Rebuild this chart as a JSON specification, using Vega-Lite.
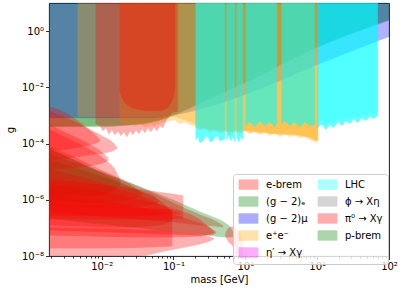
{
"$schema": "https://vega.github.io/schema/vega-lite/v6.json",
"width": 340, "height": 253,
"autosize": "none",
"padding": {"left": 49, "top": 3, "right": 18, "bottom": 34},
"config": {
  "font": "DejaVu Sans",
  "view": {"stroke": "#000", "strokeWidth": 0.9},
  "axis": {"labelFont": "DejaVu Sans", "titleFont": "DejaVu Sans", "labelFontSize": 10, "titleFontSize": 10, "titleFontWeight": "normal", "labelColor": "#000", "titleColor": "#000", "tickColor": "#000", "tickWidth": 0.8, "domain": false, "grid": false}
},
"data": {"values": [
{"r":"G","c":"(g − 2)ₑ","m":0.00185,"lo":3.99e-4,"hi":10},
{"r":"G","c":"(g − 2)ₑ","m":0.00947,"lo":3.99e-4,"hi":10},
{"r":"G","c":"(g − 2)ₑ","m":0.0248,"lo":4.71e-4,"hi":10},
{"r":"G","c":"(g − 2)ₑ","m":0.0647,"lo":7.1e-4,"hi":10},
{"r":"G","c":"(g − 2)ₑ","m":0.1227,"lo":1.26e-3,"hi":10},
{"r":"G","c":"(g − 2)ₑ","m":0.233,"lo":2.64e-3,"hi":10},
{"r":"G","c":"(g − 2)ₑ","m":1.16,"lo":0.01745,"hi":10},
{"r":"G","c":"(g − 2)ₑ","m":9.26,"lo":0.2415,"hi":10},
{"r":"G","c":"(g − 2)ₑ","m":100,"lo":2.41,"hi":10},
{"r":"G2","c":"(g − 2)ₑ","m":0.00185,"lo":4.2e-4,"hi":10},
{"r":"G2","c":"(g − 2)ₑ","m":0.0248,"lo":4.6e-4,"hi":10},
{"r":"G2","c":"(g − 2)ₑ","m":0.0647,"lo":6.8e-4,"hi":10},
{"r":"G2","c":"(g − 2)ₑ","m":0.1227,"lo":1.3e-3,"hi":10},
{"r":"G2","c":"(g − 2)ₑ","m":0.233,"lo":3.0e-3,"hi":10},
{"r":"G2","c":"(g − 2)ₑ","m":1.16,"lo":0.0189,"hi":10},
{"r":"G2","c":"(g − 2)ₑ","m":9.26,"lo":0.262,"hi":10},
{"r":"G2","c":"(g − 2)ₑ","m":100,"lo":2.61,"hi":10},
{"r":"B1","c":"(g − 2)μ","m":0.00185,"lo":8.36e-4,"hi":10},
{"r":"B1","c":"(g − 2)μ","m":0.047,"lo":8.36e-4,"hi":10},
{"r":"B1","c":"(g − 2)μ","m":0.169,"lo":1.37e-3,"hi":10},
{"r":"B1","c":"(g − 2)μ","m":1.16,"lo":6.52e-3,"hi":10},
{"r":"B1","c":"(g − 2)μ","m":9.26,"lo":0.0598,"hi":10},
{"r":"B1","c":"(g − 2)μ","m":100,"lo":0.647,"hi":10},
{"r":"O1","c":"e⁺e⁻","m":0.00468,"lo":9.08e-4,"hi":10},
{"r":"O1","c":"e⁺e⁻","m":0.115,"lo":9.08e-4,"hi":10},
{"r":"Ob","c":"π⁰ → Xγ","m":0.018,"lo":7.07e-3,"hi":10},
{"r":"Ob","c":"π⁰ → Xγ","m":0.0198,"lo":3.66e-3,"hi":10},
{"r":"Ob","c":"π⁰ → Xγ","m":0.0225,"lo":2.43e-3,"hi":10},
{"r":"Ob","c":"π⁰ → Xγ","m":0.0264,"lo":1.9e-3,"hi":10},
{"r":"Ob","c":"π⁰ → Xγ","m":0.0341,"lo":1.61e-3,"hi":10},
{"r":"Ob","c":"π⁰ → Xγ","m":0.047,"lo":1.49e-3,"hi":10},
{"r":"Ob","c":"π⁰ → Xγ","m":0.0647,"lo":1.49e-3,"hi":10},
{"r":"Ob","c":"π⁰ → Xγ","m":0.0784,"lo":1.75e-3,"hi":10},
{"r":"Ob","c":"π⁰ → Xγ","m":0.0891,"lo":2.43e-3,"hi":10},
{"r":"Ob","c":"π⁰ → Xγ","m":0.0982,"lo":4.32e-3,"hi":10},
{"r":"Ob","c":"π⁰ → Xγ","m":0.1045,"lo":8.34e-3,"hi":10},
{"r":"Oa","c":"e⁺e⁻","m":0.018,"lo":6.02e-4,"hi":10},
{"r":"Oa","c":"e⁺e⁻","m":0.0211,"lo":4.71e-4,"hi":10},
{"r":"Oa","c":"e⁺e⁻","m":0.0248,"lo":5.55e-4,"hi":10},
{"r":"Oa","c":"e⁺e⁻","m":0.029,"lo":4.34e-4,"hi":10},
{"r":"Oa","c":"e⁺e⁻","m":0.0341,"lo":5.11e-4,"hi":10},
{"r":"Oa","c":"e⁺e⁻","m":0.04,"lo":3.99e-4,"hi":10},
{"r":"Oa","c":"e⁺e⁻","m":0.047,"lo":4.71e-4,"hi":10},
{"r":"Oa","c":"e⁺e⁻","m":0.0551,"lo":4.34e-4,"hi":10},
{"r":"Oa","c":"e⁺e⁻","m":0.0647,"lo":5.55e-4,"hi":10},
{"r":"Oa","c":"e⁺e⁻","m":0.0759,"lo":6.02e-4,"hi":10},
{"r":"Oa","c":"e⁺e⁻","m":0.0891,"lo":6.53e-4,"hi":10},
{"r":"Oa","c":"e⁺e⁻","m":0.1045,"lo":7.1e-4,"hi":10},
{"r":"Oa","c":"e⁺e⁻","m":0.1227,"lo":5.11e-4,"hi":10},
{"r":"Oa","c":"e⁺e⁻","m":0.1443,"lo":6.02e-4,"hi":10},
{"r":"Oa","c":"e⁺e⁻","m":0.169,"lo":4.71e-4,"hi":10},
{"r":"Oa","c":"e⁺e⁻","m":0.1985,"lo":4.34e-4,"hi":10},
{"r":"Oa","c":"e⁺e⁻","m":0.233,"lo":2.88e-4,"hi":10},
{"r":"Oa","c":"e⁺e⁻","m":0.273,"lo":3.68e-4,"hi":10},
{"r":"Oa","c":"e⁺e⁻","m":0.321,"lo":2.44e-4,"hi":10},
{"r":"Oa","c":"e⁺e⁻","m":0.377,"lo":3.39e-4,"hi":10},
{"r":"Oa","c":"e⁺e⁻","m":0.442,"lo":2.25e-4,"hi":10},
{"r":"Oa","c":"e⁺e⁻","m":0.519,"lo":3.12e-4,"hi":10},
{"r":"Oa","c":"e⁺e⁻","m":0.609,"lo":2.07e-4,"hi":10},
{"r":"Oa","c":"e⁺e⁻","m":0.714,"lo":2.88e-4,"hi":10},
{"r":"Oa","c":"e⁺e⁻","m":0.839,"lo":2.25e-4,"hi":10},
{"r":"Oa","c":"e⁺e⁻","m":0.985,"lo":3.12e-4,"hi":10},
{"r":"Oa","c":"e⁺e⁻","m":1.16,"lo":2.25e-4,"hi":10},
{"r":"Oa","c":"e⁺e⁻","m":1.36,"lo":2.88e-4,"hi":10},
{"r":"Oa","c":"e⁺e⁻","m":1.59,"lo":2.07e-4,"hi":10},
{"r":"Oa","c":"e⁺e⁻","m":1.87,"lo":2.65e-4,"hi":10},
{"r":"Oa","c":"e⁺e⁻","m":2.19,"lo":1.91e-4,"hi":10},
{"r":"Oa","c":"e⁺e⁻","m":2.57,"lo":2.44e-4,"hi":10},
{"r":"Oa","c":"e⁺e⁻","m":3.02,"lo":1.76e-4,"hi":10},
{"r":"Oa","c":"e⁺e⁻","m":3.54,"lo":2.25e-4,"hi":10},
{"r":"Oa","c":"e⁺e⁻","m":4.16,"lo":1.76e-4,"hi":10},
{"r":"Oa","c":"e⁺e⁻","m":4.88,"lo":2.07e-4,"hi":10},
{"r":"Oa","c":"e⁺e⁻","m":5.73,"lo":1.62e-4,"hi":10},
{"r":"Oa","c":"e⁺e⁻","m":6.72,"lo":1.76e-4,"hi":10},
{"r":"Oa","c":"e⁺e⁻","m":7.89,"lo":1.37e-4,"hi":10},
{"r":"Oa","c":"e⁺e⁻","m":9.26,"lo":1.16e-4,"hi":10},
{"r":"Oa","c":"e⁺e⁻","m":10.2,"lo":1.16e-4,"hi":10},
{"r":"Oc","c":"e⁺e⁻","m":0.115,"lo":8.36e-4,"hi":10},
{"r":"Oc","c":"e⁺e⁻","m":0.1443,"lo":7.1e-4,"hi":10},
{"r":"Oc","c":"e⁺e⁻","m":0.169,"lo":6.02e-4,"hi":10},
{"r":"Oc","c":"e⁺e⁻","m":0.1985,"lo":5.11e-4,"hi":10},
{"r":"Oc","c":"e⁺e⁻","m":0.233,"lo":3.99e-4,"hi":10},
{"r":"Oc","c":"e⁺e⁻","m":0.321,"lo":3.39e-4,"hi":10},
{"r":"Oc","c":"e⁺e⁻","m":0.442,"lo":3.12e-4,"hi":10},
{"r":"Oc","c":"e⁺e⁻","m":0.609,"lo":2.88e-4,"hi":10},
{"r":"Oc","c":"e⁺e⁻","m":0.839,"lo":3.12e-4,"hi":10},
{"r":"Oc","c":"e⁺e⁻","m":1.16,"lo":2.88e-4,"hi":10},
{"r":"Oc","c":"e⁺e⁻","m":1.59,"lo":2.65e-4,"hi":10},
{"r":"Oc","c":"e⁺e⁻","m":2.19,"lo":2.44e-4,"hi":10},
{"r":"Oc","c":"e⁺e⁻","m":3.02,"lo":2.25e-4,"hi":10},
{"r":"Oc","c":"e⁺e⁻","m":4.16,"lo":2.25e-4,"hi":10},
{"r":"Oc","c":"e⁺e⁻","m":5.73,"lo":2.07e-4,"hi":10},
{"r":"Oc","c":"e⁺e⁻","m":7.89,"lo":1.76e-4,"hi":10},
{"r":"Oc","c":"e⁺e⁻","m":9.26,"lo":1.37e-4,"hi":10},
{"r":"Oc","c":"e⁺e⁻","m":10.2,"lo":1.37e-4,"hi":10},
{"r":"Od","c":"e⁺e⁻","m":0.205,"lo":3.6e-4,"hi":10},
{"r":"Od","c":"e⁺e⁻","m":0.273,"lo":3.3e-4,"hi":10},
{"r":"Od","c":"e⁺e⁻","m":0.377,"lo":2.9e-4,"hi":10},
{"r":"Od","c":"e⁺e⁻","m":0.519,"lo":2.7e-4,"hi":10},
{"r":"Od","c":"e⁺e⁻","m":0.714,"lo":2.6e-4,"hi":10},
{"r":"Od","c":"e⁺e⁻","m":0.985,"lo":2.7e-4,"hi":10},
{"r":"Od","c":"e⁺e⁻","m":1.36,"lo":2.5e-4,"hi":10},
{"r":"Od","c":"e⁺e⁻","m":1.87,"lo":2.4e-4,"hi":10},
{"r":"Od","c":"e⁺e⁻","m":2.57,"lo":2.2e-4,"hi":10},
{"r":"Od","c":"e⁺e⁻","m":3.54,"lo":2.1e-4,"hi":10},
{"r":"Od","c":"e⁺e⁻","m":4.88,"lo":2.0e-4,"hi":10},
{"r":"Od","c":"e⁺e⁻","m":6.72,"lo":1.8e-4,"hi":10},
{"r":"Od","c":"e⁺e⁻","m":8.5,"lo":1.5e-4,"hi":10},
{"r":"Od","c":"e⁺e⁻","m":9.26,"lo":1.3e-4,"hi":10},
{"r":"Od","c":"e⁺e⁻","m":10.2,"lo":1.3e-4,"hi":10},
{"r":"R1","c":"π⁰ → Xγ","m":0.00833,"lo":5.11e-4,"hi":10},
{"r":"R1","c":"π⁰ → Xγ","m":0.00947,"lo":4.34e-4,"hi":10},
{"r":"R1","c":"π⁰ → Xγ","m":0.01042,"lo":2.88e-4,"hi":10},
{"r":"R1","c":"π⁰ → Xγ","m":0.01149,"lo":3.68e-4,"hi":10},
{"r":"R1","c":"π⁰ → Xγ","m":0.01264,"lo":2.25e-4,"hi":10},
{"r":"R1","c":"π⁰ → Xγ","m":0.01391,"lo":3.12e-4,"hi":10},
{"r":"R1","c":"π⁰ → Xγ","m":0.01531,"lo":2.07e-4,"hi":10},
{"r":"R1","c":"π⁰ → Xγ","m":0.01686,"lo":2.88e-4,"hi":10},
{"r":"R1","c":"π⁰ → Xγ","m":0.01855,"lo":1.91e-4,"hi":10},
{"r":"R1","c":"π⁰ → Xγ","m":0.02042,"lo":2.65e-4,"hi":10},
{"r":"R1","c":"π⁰ → Xγ","m":0.02247,"lo":1.76e-4,"hi":10},
{"r":"R1","c":"π⁰ → Xγ","m":0.0248,"lo":2.88e-4,"hi":10},
{"r":"R1","c":"π⁰ → Xγ","m":0.02723,"lo":2.07e-4,"hi":10},
{"r":"R1","c":"π⁰ → Xγ","m":0.02997,"lo":3.12e-4,"hi":10},
{"r":"R1","c":"π⁰ → Xγ","m":0.03299,"lo":2.25e-4,"hi":10},
{"r":"R1","c":"π⁰ → Xγ","m":0.0363,"lo":3.39e-4,"hi":10},
{"r":"R1","c":"π⁰ → Xγ","m":0.04,"lo":2.44e-4,"hi":10},
{"r":"R1","c":"π⁰ → Xγ","m":0.044,"lo":3.68e-4,"hi":10},
{"r":"R1","c":"π⁰ → Xγ","m":0.04843,"lo":2.65e-4,"hi":10},
{"r":"R1","c":"π⁰ → Xγ","m":0.0533,"lo":3.99e-4,"hi":10},
{"r":"R1","c":"π⁰ → Xγ","m":0.05866,"lo":2.88e-4,"hi":10},
{"r":"R1","c":"π⁰ → Xγ","m":0.0647,"lo":4.34e-4,"hi":10},
{"r":"R1","c":"π⁰ → Xγ","m":0.07106,"lo":3.68e-4,"hi":10},
{"r":"R1","c":"π⁰ → Xγ","m":0.0784,"lo":6.53e-4,"hi":10},
{"r":"R1","c":"π⁰ → Xγ","m":0.0863,"lo":9.08e-4,"hi":10},
{"r":"R1","c":"π⁰ → Xγ","m":0.095,"lo":1.26e-3,"hi":10},
{"r":"R1","c":"π⁰ → Xγ","m":0.1045,"lo":1.37e-3,"hi":10},
{"r":"R1","c":"π⁰ → Xγ","m":0.115,"lo":1.37e-3,"hi":10},
{"r":"L1a","c":"LHC","m":0.205,"lo":1.37e-4,"hi":10},
{"r":"L1a","c":"LHC","m":0.2185,"lo":1.91e-4,"hi":10},
{"r":"L1a","c":"LHC","m":0.233,"lo":1.07e-4,"hi":10},
{"r":"L1a","c":"LHC","m":0.2564,"lo":1.26e-4,"hi":10},
{"r":"L1a","c":"LHC","m":0.273,"lo":1.62e-4,"hi":10},
{"r":"L1a","c":"LHC","m":0.3006,"lo":1.91e-4,"hi":10},
{"r":"L1a","c":"LHC","m":0.321,"lo":1.16e-4,"hi":10},
{"r":"L1a","c":"LHC","m":0.3532,"lo":1.26e-4,"hi":10},
{"r":"L1a","c":"LHC","m":0.377,"lo":1.76e-4,"hi":10},
{"r":"L1a","c":"LHC","m":0.414,"lo":1.91e-4,"hi":10},
{"r":"L1a","c":"LHC","m":0.442,"lo":1.26e-4,"hi":10},
{"r":"L1a","c":"LHC","m":0.4864,"lo":1.37e-4,"hi":10},
{"r":"L1a","c":"LHC","m":0.519,"lo":1.49e-4,"hi":10},
{"r":"L1b","c":"LHC","m":0.553,"lo":1.37e-4,"hi":10},
{"r":"L1b","c":"LHC","m":0.59,"lo":1.91e-4,"hi":10},
{"r":"L1b","c":"LHC","m":0.629,"lo":1.26e-4,"hi":10},
{"r":"L1b","c":"LHC","m":0.67,"lo":1.76e-4,"hi":10},
{"r":"L1b","c":"LHC","m":0.714,"lo":1.16e-4,"hi":10},
{"r":"L1c","c":"LHC","m":0.762,"lo":1.62e-4,"hi":10},
{"r":"L1c","c":"LHC","m":0.813,"lo":1.16e-4,"hi":10},
{"r":"L1c","c":"LHC","m":0.865,"lo":1.76e-4,"hi":10},
{"r":"L1c","c":"LHC","m":0.923,"lo":1.37e-4,"hi":10},
{"r":"L1d","c":"LHC","m":1.017,"lo":4.34e-4,"hi":10},
{"r":"L1d","c":"LHC","m":1.16,"lo":6.02e-4,"hi":10},
{"r":"L1d","c":"LHC","m":1.36,"lo":3.99e-4,"hi":10},
{"r":"L1d","c":"LHC","m":1.59,"lo":6.53e-4,"hi":10},
{"r":"L1d","c":"LHC","m":1.87,"lo":4.34e-4,"hi":10},
{"r":"L1d","c":"LHC","m":2.19,"lo":6.02e-4,"hi":10},
{"r":"L1d","c":"LHC","m":2.57,"lo":3.99e-4,"hi":10},
{"r":"L1d","c":"LHC","m":2.74,"lo":5.55e-4,"hi":10},
{"r":"L1e","c":"LHC","m":3.22,"lo":5.11e-4,"hi":10},
{"r":"L1e","c":"LHC","m":3.54,"lo":6.53e-4,"hi":10},
{"r":"L1e","c":"LHC","m":4.16,"lo":4.34e-4,"hi":10},
{"r":"L1e","c":"LHC","m":4.88,"lo":6.02e-4,"hi":10},
{"r":"L1e","c":"LHC","m":5.73,"lo":3.99e-4,"hi":10},
{"r":"L1e","c":"LHC","m":6.72,"lo":6.02e-4,"hi":10},
{"r":"L1e","c":"LHC","m":7.89,"lo":4.34e-4,"hi":10},
{"r":"L1e","c":"LHC","m":9.26,"lo":5.11e-4,"hi":10},
{"r":"L1f","c":"LHC","m":10.2,"lo":3.68e-4,"hi":10},
{"r":"L1f","c":"LHC","m":11.6,"lo":5.11e-4,"hi":10},
{"r":"L1f","c":"LHC","m":13.2,"lo":3.12e-4,"hi":10},
{"r":"L1f","c":"LHC","m":14.96,"lo":4.71e-4,"hi":10},
{"r":"L1f","c":"LHC","m":17.0,"lo":3.68e-4,"hi":10},
{"r":"L1f","c":"LHC","m":19.4,"lo":6.02e-4,"hi":10},
{"r":"L1f","c":"LHC","m":22.0,"lo":4.34e-4,"hi":10},
{"r":"L1f","c":"LHC","m":25.0,"lo":6.53e-4,"hi":10},
{"r":"L1f","c":"LHC","m":28.4,"lo":5.11e-4,"hi":10},
{"r":"L1f","c":"LHC","m":32.3,"lo":7.7e-4,"hi":10},
{"r":"L1f","c":"LHC","m":36.7,"lo":5.55e-4,"hi":10},
{"r":"L1f","c":"LHC","m":41.7,"lo":8.36e-4,"hi":10},
{"r":"L1f","c":"LHC","m":47.4,"lo":6.53e-4,"hi":10},
{"r":"L1f","c":"LHC","m":53.8,"lo":9.08e-4,"hi":10},
{"r":"L1f","c":"LHC","m":61.2,"lo":7.7e-4,"hi":10},
{"r":"L1f","c":"LHC","m":69.5,"lo":9.86e-4,"hi":10},
{"r":"L2f","c":"LHC","m":10.2,"lo":5.4e-4,"hi":10},
{"r":"L2f","c":"LHC","m":11.6,"lo":7.3e-4,"hi":10},
{"r":"L2f","c":"LHC","m":13.2,"lo":4.6e-4,"hi":10},
{"r":"L2f","c":"LHC","m":14.96,"lo":6.8e-4,"hi":10},
{"r":"L2f","c":"LHC","m":17.0,"lo":5.3e-4,"hi":10},
{"r":"L2f","c":"LHC","m":19.4,"lo":8.7e-4,"hi":10},
{"r":"L2f","c":"LHC","m":22.0,"lo":6.2e-4,"hi":10},
{"r":"L2f","c":"LHC","m":25.0,"lo":9.4e-4,"hi":10},
{"r":"L2f","c":"LHC","m":28.4,"lo":7.4e-4,"hi":10},
{"r":"L2f","c":"LHC","m":32.3,"lo":1.1e-3,"hi":10},
{"r":"L2f","c":"LHC","m":36.7,"lo":8.0e-4,"hi":10},
{"r":"L2f","c":"LHC","m":41.7,"lo":1.2e-3,"hi":10},
{"r":"L2f","c":"LHC","m":47.4,"lo":9.4e-4,"hi":10},
{"r":"L2f","c":"LHC","m":53.8,"lo":1.3e-3,"hi":10},
{"r":"L2f","c":"LHC","m":61.2,"lo":1.1e-3,"hi":10},
{"r":"L2f","c":"LHC","m":69.5,"lo":1.4e-3,"hi":10},
{"r":"E4","c":"e-brem","m":0.00185,"lo":3.71e-7,"hi":7.73e-5},
{"r":"E4","c":"e-brem","m":0.00425,"lo":3.15e-7,"hi":3.13e-5},
{"r":"E4","c":"e-brem","m":0.00947,"lo":2.67e-7,"hi":1.17e-5},
{"r":"E4","c":"e-brem","m":0.0211,"lo":2.27e-7,"hi":4.73e-6},
{"r":"E4","c":"e-brem","m":0.047,"lo":1.92e-7,"hi":1.92e-6},
{"r":"E4","c":"e-brem","m":0.1045,"lo":1.63e-7,"hi":7.16e-7},
{"r":"E4","c":"e-brem","m":0.233,"lo":1.28e-7,"hi":2.9e-7},
{"r":"E4","c":"e-brem","m":0.377,"lo":1.18e-7,"hi":1.77e-7},
{"r":"E4","c":"e-brem","m":0.486,"lo":1.08e-7,"hi":1.18e-7},
{"r":"E5","c":"e-brem","m":0.00185,"lo":6.59e-7,"hi":6.04e-5},
{"r":"E5","c":"e-brem","m":0.00499,"lo":6.08e-7,"hi":2.08e-5},
{"r":"E5","c":"e-brem","m":0.013,"lo":5.6e-7,"hi":6.06e-6},
{"r":"E5","c":"e-brem","m":0.0248,"lo":5.6e-7,"hi":2.89e-6},
{"r":"E5","c":"e-brem","m":0.04,"lo":6.08e-7,"hi":1.77e-6},
{"r":"E5","c":"e-brem","m":0.0551,"lo":7.16e-7,"hi":1.27e-6},
{"r":"E5","c":"e-brem","m":0.0627,"lo":8.44e-7,"hi":9.16e-7},
{"r":"E10","c":"e-brem","m":0.00185,"lo":9.95e-7,"hi":4.01e-5},
{"r":"E10","c":"e-brem","m":0.00362,"lo":9.16e-7,"hi":2.25e-5},
{"r":"E10","c":"e-brem","m":0.00947,"lo":8.44e-7,"hi":9.91e-6},
{"r":"E10","c":"e-brem","m":0.018,"lo":9.16e-7,"hi":5.14e-6},
{"r":"E10","c":"e-brem","m":0.029,"lo":1.17e-6,"hi":2.66e-6},
{"r":"E10","c":"e-brem","m":0.0363,"lo":1.5e-6,"hi":1.63e-6},
{"r":"E11","c":"e-brem","m":0.00185,"lo":1.28e-7,"hi":2.66e-5},
{"r":"E11","c":"e-brem","m":0.00499,"lo":1.18e-7,"hi":1.17e-5},
{"r":"E11","c":"e-brem","m":0.013,"lo":1.08e-7,"hi":5.14e-6},
{"r":"E11","c":"e-brem","m":0.0248,"lo":1.08e-7,"hi":2.66e-6},
{"r":"E11","c":"e-brem","m":0.047,"lo":1.18e-7,"hi":1.38e-6},
{"r":"E11","c":"e-brem","m":0.0759,"lo":1.39e-7,"hi":6.59e-7},
{"r":"E11","c":"e-brem","m":0.095,"lo":1.92e-7,"hi":3.42e-7},
{"r":"E12","c":"e-brem","m":0.00185,"lo":1.5e-6,"hi":3.12e-4},
{"r":"E12","c":"e-brem","m":0.00362,"lo":1.38e-6,"hi":1.37e-4},
{"r":"E12","c":"e-brem","m":0.00687,"lo":1.38e-6,"hi":6.04e-5},
{"r":"E12","c":"e-brem","m":0.0111,"lo":1.63e-6,"hi":2.66e-5},
{"r":"E12","c":"e-brem","m":0.0153,"lo":2.26e-6,"hi":1.17e-5},
{"r":"E12","c":"e-brem","m":0.018,"lo":3.41e-6,"hi":5.14e-6},
{"r":"P","c":"p-brem","m":0.00185,"lo":2.27e-7,"hi":6.56e-5},
{"r":"P","c":"p-brem","m":0.00947,"lo":1.39e-7,"hi":9.91e-6},
{"r":"P","c":"p-brem","m":0.047,"lo":9.19e-8,"hi":2.08e-6},
{"r":"P","c":"p-brem","m":0.1045,"lo":7.18e-8,"hi":9.16e-7},
{"r":"P","c":"p-brem","m":0.233,"lo":6.1e-8,"hi":3.71e-7},
{"r":"P","c":"p-brem","m":0.377,"lo":5.18e-8,"hi":2.27e-7},
{"r":"P","c":"p-brem","m":0.519,"lo":4.77e-8,"hi":1.51e-7},
{"r":"P","c":"p-brem","m":0.649,"lo":4.77e-8,"hi":8.47e-8},
{"r":"P","c":"p-brem","m":0.692,"lo":5.18e-8,"hi":5.62e-8},
{"r":"E13","c":"e-brem","m":0.00185,"lo":2.9e-7,"hi":1.17e-5},
{"r":"E13","c":"e-brem","m":0.00687,"lo":2.67e-7,"hi":5.14e-6},
{"r":"E13","c":"e-brem","m":0.018,"lo":2.67e-7,"hi":2.26e-6},
{"r":"E13","c":"e-brem","m":0.047,"lo":2.9e-7,"hi":9.95e-7},
{"r":"E13","c":"e-brem","m":0.0891,"lo":3.15e-7,"hi":4.38e-7},
{"r":"E13","c":"e-brem","m":0.1227,"lo":3.15e-7,"hi":3.2e-7},
{"r":"E9","c":"e-brem","m":0.00185,"lo":2.09e-7,"hi":5.14e-6},
{"r":"E9","c":"e-brem","m":0.00947,"lo":2.09e-7,"hi":3.41e-6},
{"r":"E9","c":"e-brem","m":0.0341,"lo":2.09e-7,"hi":2.26e-6},
{"r":"E9","c":"e-brem","m":0.0891,"lo":2.09e-7,"hi":1.63e-6},
{"r":"E9","c":"e-brem","m":0.135,"lo":2.27e-7,"hi":1.38e-6},
{"r":"E14","c":"e-brem","m":0.00185,"lo":5.62e-8,"hi":3.41e-6},
{"r":"E14","c":"e-brem","m":0.00687,"lo":5.18e-8,"hi":2.26e-6},
{"r":"E14","c":"e-brem","m":0.0248,"lo":4.77e-8,"hi":1.17e-6},
{"r":"E14","c":"e-brem","m":0.0891,"lo":4.77e-8,"hi":5.16e-7},
{"r":"E14","c":"e-brem","m":0.233,"lo":5.18e-8,"hi":1.92e-7},
{"r":"E14","c":"e-brem","m":0.321,"lo":6.1e-8,"hi":9.97e-8},
{"r":"E14","c":"e-brem","m":0.365,"lo":6.62e-8,"hi":7.18e-8},
{"r":"E1","c":"e-brem","m":0.00185,"lo":6.04e-5,"hi":2.06e-3},
{"r":"E1","c":"e-brem","m":0.00263,"lo":6.04e-5,"hi":1.49e-3},
{"r":"E1","c":"e-brem","m":0.00362,"lo":6.56e-5,"hi":9.86e-4},
{"r":"E1","c":"e-brem","m":0.00499,"lo":7.73e-5,"hi":5.55e-4},
{"r":"E1","c":"e-brem","m":0.00687,"lo":9.1e-5,"hi":2.88e-4},
{"r":"E1","c":"e-brem","m":0.00861,"lo":1.07e-4,"hi":1.76e-4},
{"r":"E1","c":"e-brem","m":0.00947,"lo":1.26e-4,"hi":1.27e-4},
{"r":"E2","c":"e-brem","m":0.00185,"lo":2.66e-5,"hi":1.37e-3},
{"r":"E2","c":"e-brem","m":0.00362,"lo":3.13e-5,"hi":7.1e-4},
{"r":"E2","c":"e-brem","m":0.00687,"lo":4.01e-5,"hi":3.12e-4},
{"r":"E2","c":"e-brem","m":0.0111,"lo":4.72e-5,"hi":1.62e-4},
{"r":"E2","c":"e-brem","m":0.01436,"lo":5.56e-5,"hi":1.07e-4},
{"r":"E2","c":"e-brem","m":0.0163,"lo":6.56e-5,"hi":7.12e-5},
{"r":"E3","c":"e-brem","m":0.00185,"lo":1.17e-5,"hi":4.71e-4},
{"r":"E3","c":"e-brem","m":0.00362,"lo":1.38e-5,"hi":2.07e-4},
{"r":"E3","c":"e-brem","m":0.00687,"lo":1.62e-5,"hi":9.1e-5},
{"r":"E3","c":"e-brem","m":0.00947,"lo":1.91e-5,"hi":5.56e-5},
{"r":"E3","c":"e-brem","m":0.0122,"lo":2.45e-5,"hi":3.13e-5},
{"r":"E6","c":"e-brem","m":0.00185,"lo":8.47e-8,"hi":1.5e-6},
{"r":"E6","c":"e-brem","m":0.00499,"lo":7.8e-8,"hi":1.08e-6},
{"r":"E6","c":"e-brem","m":0.013,"lo":7.18e-8,"hi":7.78e-7},
{"r":"E6","c":"e-brem","m":0.0341,"lo":6.62e-8,"hi":5.16e-7},
{"r":"E6","c":"e-brem","m":0.0891,"lo":6.1e-8,"hi":3.15e-7},
{"r":"E6","c":"e-brem","m":0.1985,"lo":5.62e-8,"hi":1.63e-7},
{"r":"E6","c":"e-brem","m":0.321,"lo":5.62e-8,"hi":9.97e-8},
{"r":"E6","c":"e-brem","m":0.389,"lo":6.62e-8,"hi":7.18e-8},
{"r":"E7","c":"e-brem","m":0.00185,"lo":1e-8,"hi":9.97e-8},
{"r":"E7","c":"e-brem","m":0.00947,"lo":1e-8,"hi":9.19e-8},
{"r":"E7","c":"e-brem","m":0.0341,"lo":1e-8,"hi":8.47e-8},
{"r":"E7","c":"e-brem","m":0.0647,"lo":1.39e-8,"hi":7.8e-8},
{"r":"E7","c":"e-brem","m":0.1227,"lo":1.93e-8,"hi":6.62e-8},
{"r":"E7","c":"e-brem","m":0.233,"lo":2.68e-8,"hi":5.62e-8},
{"r":"E7","c":"e-brem","m":0.321,"lo":3.43e-8,"hi":4.77e-8},
{"r":"E7","c":"e-brem","m":0.365,"lo":4.04e-8,"hi":4.1e-8},
{"r":"E8","c":"e-brem","m":0.00185,"lo":1.93e-8,"hi":6.59e-7},
{"r":"E8","c":"e-brem","m":0.00947,"lo":1.93e-8,"hi":5.6e-7},
{"r":"E8","c":"e-brem","m":0.047,"lo":2.1e-8,"hi":4.75e-7},
{"r":"E8","c":"e-brem","m":0.095,"lo":2.28e-8,"hi":4.38e-7},
{"r":"S","c":"e-brem","m":0.536,"lo":4.77e-8,"hi":6.62e-8},
{"r":"S","c":"e-brem","m":0.59,"lo":3.16e-8,"hi":9.97e-8},
{"r":"S","c":"e-brem","m":0.67,"lo":2.28e-8,"hi":1.08e-7},
{"r":"S","c":"e-brem","m":0.738,"lo":1e-8,"hi":9.19e-8},
{"r":"S","c":"e-brem","m":0.813,"lo":1e-8,"hi":7.18e-8},
{"r":"S","c":"e-brem","m":0.865,"lo":1e-8,"hi":5.18e-8},
{"r":"S","c":"e-brem","m":0.923,"lo":1e-8,"hi":3.73e-8}
]},
"encoding": {
  "x": {"field": "m", "type": "quantitative",
    "scale": {"type": "log", "domain": [0.00185, 100], "nice": false},
    "axis": {"title": "mass [GeV]",
      "values": [0.002,0.003,0.004,0.005,0.006,0.007,0.008,0.009,0.01,0.02,0.03,0.04,0.05,0.06,0.07,0.08,0.09,0.1,0.2,0.3,0.4,0.5,0.6,0.7,0.8,0.9,1,2,3,4,5,6,7,8,9,10,20,30,40,50,60,70,80,90,100],
      "labelExpr": "datum.value==0.01?'10⁻²':datum.value==0.1?'10⁻¹':datum.value==1?'10⁰':datum.value==10?'10¹':datum.value==100?'10²':''",
      "tickSize": {"condition": {"test": "datum.value==0.01||datum.value==0.1||datum.value==1||datum.value==10||datum.value==100", "value": 3.5}, "value": 2},
      "labelOverlap": false, "labelFlush": false, "labelBound": false, "labelPadding": 2, "titlePadding": 3}},
  "y": {"field": "hi", "type": "quantitative",
    "scale": {"type": "log", "domain": [1e-8, 10], "nice": false},
    "axis": {"title": "g", "values": [1e-8, 1e-6, 1e-4, 1e-2, 1],
      "labelExpr": "datum.value==1?'10⁰':datum.value==0.01?'10⁻²':datum.value==0.0001?'10⁻⁴':datum.value==0.000001?'10⁻⁶':'10⁻⁸'",
      "tickSize": 3.5, "labelPadding": 2, "titlePadding": 6, "labelOverlap": false, "labelFlush": false}},
  "y2": {"field": "lo"},
  "detail": {"field": "r"},
  "color": {"field": "c", "type": "nominal",
    "scale": {"domain": ["e-brem","(g − 2)ₑ","(g − 2)μ","e⁺e⁻","η′ → Xγ","LHC","ϕ → Xη","π⁰ → Xγ","p-brem"],
              "range": ["#ff0000","#008000","#0000ff","#ffa500","#ff00ff","#00ffff","#808080","#ff0000","#008000"]},
    "legend": {"orient": "none", "legendX": 184, "legendY": 171, "columns": 2, "title": null,
      "symbolType": "M-2,-1H2V1H-2Z", "symbolSize": 90, "symbolOpacity": 0.32, "symbolStrokeWidth": 0.8, "symbolOffset": 5,
      "labelFont": "DejaVu Sans", "labelFontSize": 10, "labelColor": "#000", "labelOffset": 12,
      "rowPadding": 4, "columnPadding": 8, "padding": 5, "gridAlign": "all",
      "fillColor": "rgba(255,255,255,0.8)", "strokeColor": "#cccccc", "cornerRadius": 3}},
  "stroke": {"field": "c", "type": "nominal",
    "scale": {"domain": ["e-brem","(g − 2)ₑ","(g − 2)μ","e⁺e⁻","η′ → Xγ","LHC","ϕ → Xη","π⁰ → Xγ","p-brem"],
              "range": ["#ff0000","#008000","#0000ff","#ffa500","#ff00ff","#00ffff","#808080","#ff0000","#008000"]},
    "legend": null}
},
"layer": [
  {"transform": [{"filter": {"field": "r", "oneOf": ["G","G2","B1"]}}],
   "mark": {"type": "area", "interpolate": "monotone", "opacity": 0.3, "strokeWidth": 0.8, "clip": true}},
  {"transform": [{"filter": {"field": "r", "oneOf": ["O1","Oa","Oc","Od","R1"]}}],
   "mark": {"type": "area", "opacity": 0.3, "strokeWidth": 0.8, "clip": true}},
  {"transform": [{"filter": {"field": "r", "oneOf": ["Ob"]}}],
   "mark": {"type": "area", "interpolate": "monotone", "opacity": 0.3, "strokeWidth": 0.8, "clip": true}},
  {"transform": [{"filter": {"field": "r", "oneOf": ["L1a","L1b","L1c","L1d","L1e","L1f"]}}],
   "mark": {"type": "area", "opacity": 0.6, "strokeWidth": 0.6, "clip": true}},
  {"transform": [{"filter": {"field": "r", "oneOf": ["L2f"]}}],
   "mark": {"type": "area", "opacity": 0.2, "strokeWidth": 0.6, "clip": true}},
  {"transform": [{"filter": {"field": "r", "oneOf": ["E4","E5","E10","E11","E12"]}}],
   "mark": {"type": "area", "interpolate": "monotone", "opacity": 0.3, "strokeWidth": 0.8, "clip": true}},
  {"transform": [{"filter": {"field": "r", "oneOf": ["P"]}}],
   "mark": {"type": "area", "interpolate": "monotone", "opacity": 0.3, "strokeWidth": 0.8, "clip": true}},
  {"transform": [{"filter": {"field": "r", "oneOf": ["E13","E9","E14","E1","E2","E3","E6","E7","E8","S"]}}],
   "mark": {"type": "area", "interpolate": "monotone", "opacity": 0.3, "strokeWidth": 0.8, "clip": true}}
]
}
